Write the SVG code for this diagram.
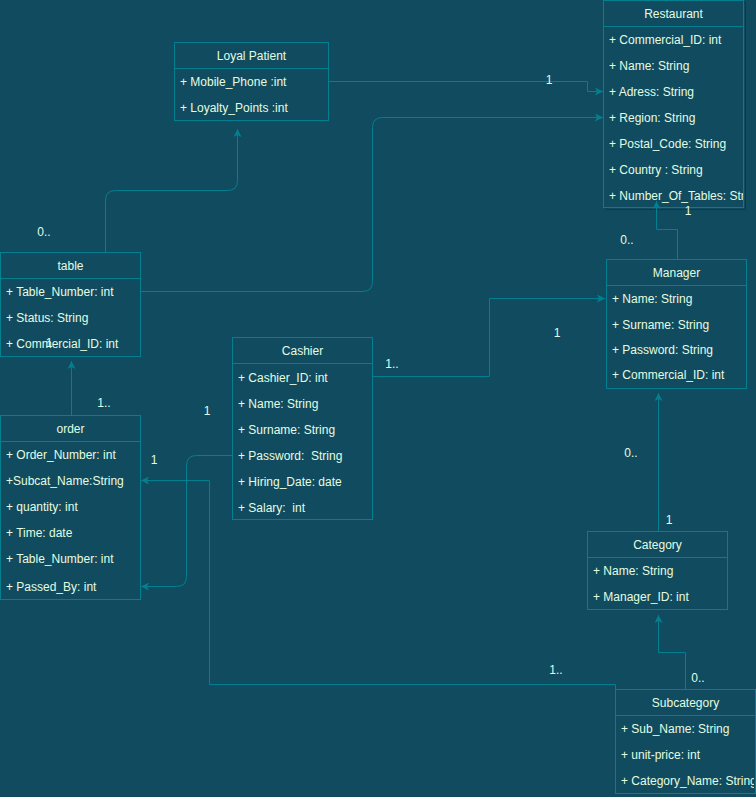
<svg xmlns="http://www.w3.org/2000/svg" width="756" height="797" viewBox="0 0 756 797">
<style>
.bg{fill:#114B5F}
.box{fill:#114B5F;stroke:#028090;stroke-width:1}
.sep{stroke:#028090;stroke-width:1}
.t{font-family:"Liberation Sans",Arial,sans-serif;font-size:12px;fill:#E4FDE1}
.ttl{text-anchor:middle}
.edge{fill:none;stroke:#028090;stroke-width:1}
.lbl{font-family:"Liberation Sans",Arial,sans-serif;font-size:12px;fill:#E4FDE1;text-anchor:middle}
</style>
<defs>
<marker id="arr" viewBox="0 0 10 10" refX="10" refY="5" markerWidth="8" markerHeight="8" markerUnits="userSpaceOnUse" orient="auto">
<path d="M0,0 L10,5 L0,10 L2.5,5 Z" fill="#028090"/>
</marker>
<clipPath id="cR"><rect x="604" y="0" width="139" height="208"/></clipPath>
<clipPath id="cS"><rect x="615" y="689" width="139" height="104"/></clipPath>
</defs>
<rect class="bg" x="0" y="0" width="756" height="797"/>

<g id="restaurant">
<rect x="606.5" y="2.5" width="139" height="207" fill="none" stroke="#0c3a4a"/>
<rect class="box" x="603.5" y="0.5" width="140" height="207"/>
<line class="sep" x1="603.5" y1="26.5" x2="743.5" y2="26.5"/>
<text class="t ttl" x="673.5" y="18">Restaurant</text>
<g clip-path="url(#cR)">
<text class="t" x="609" y="44">+ Commercial_ID: int</text>
<text class="t" x="609" y="70">+ Name: String</text>
<text class="t" x="609" y="96">+ Adress: String</text>
<text class="t" x="609" y="122">+ Region: String</text>
<text class="t" x="609" y="148">+ Postal_Code: String</text>
<text class="t" x="609" y="174">+ Country : String</text>
<text class="t" x="609" y="200">+ Number_Of_Tables: String</text>
</g>
</g>

<g id="loyal-patient">
<rect class="box" x="174.5" y="42.5" width="154" height="78"/>
<line class="sep" x1="174.5" y1="68.5" x2="328.5" y2="68.5"/>
<text class="t ttl" x="251.5" y="60">Loyal Patient</text>
<text class="t" x="180" y="86">+ Mobile_Phone :int</text>
<text class="t" x="180" y="112">+ Loyalty_Points :int</text>
</g>

<g id="table">
<rect class="box" x="0.5" y="252.5" width="140" height="104"/>
<line class="sep" x1="0.5" y1="278.5" x2="140.5" y2="278.5"/>
<text class="t ttl" x="70.5" y="270">table</text>
<text class="t" x="6" y="296">+ Table_Number: int</text>
<text class="t" x="6" y="322">+ Status: String</text>
<text class="t" x="6" y="348">+ Commercial_ID: int</text>
</g>

<g id="cashier">
<rect class="box" x="232.5" y="337.5" width="140" height="182"/>
<line class="sep" x1="232.5" y1="363.5" x2="372.5" y2="363.5"/>
<text class="t ttl" x="302.5" y="355">Cashier</text>
<text class="t" x="238" y="382">+ Cashier_ID: int</text>
<text class="t" x="238" y="408">+ Name: String</text>
<text class="t" x="238" y="434">+ Surname: String</text>
<text class="t" x="238" y="460" xml:space="preserve">+ Password:  String</text>
<text class="t" x="238" y="486">+ Hiring_Date: date</text>
<text class="t" x="238" y="512" xml:space="preserve">+ Salary:  int</text>
</g>

<g id="order">
<rect class="box" x="0.5" y="415.5" width="140" height="184"/>
<line class="sep" x1="0.5" y1="441.5" x2="140.5" y2="441.5"/>
<text class="t ttl" x="70.5" y="433">order</text>
<text class="t" x="6" y="459">+ Order_Number: int</text>
<text class="t" x="6" y="485">+Subcat_Name:String</text>
<text class="t" x="6" y="511">+ quantity: int</text>
<text class="t" x="6" y="537">+ Time: date</text>
<text class="t" x="6" y="563">+ Table_Number: int</text>
<text class="t" x="6" y="591">+ Passed_By: int</text>
</g>

<g id="manager">
<rect class="box" x="606.5" y="259.5" width="140" height="129"/>
<line class="sep" x1="606.5" y1="285.5" x2="746.5" y2="285.5"/>
<text class="t ttl" x="676.5" y="277">Manager</text>
<text class="t" x="612" y="303">+ Name: String</text>
<text class="t" x="612" y="329">+ Surname: String</text>
<text class="t" x="612" y="354">+ Password: String</text>
<text class="t" x="612" y="379">+ Commercial_ID: int</text>
</g>

<g id="category">
<rect class="box" x="587.5" y="531.5" width="140" height="78"/>
<line class="sep" x1="587.5" y1="557.5" x2="727.5" y2="557.5"/>
<text class="t ttl" x="657.5" y="549">Category</text>
<text class="t" x="593" y="575">+ Name: String</text>
<text class="t" x="593" y="601">+ Manager_ID: int</text>
</g>

<g id="subcategory">
<rect class="box" x="615.5" y="689.5" width="140" height="104"/>
<line class="sep" x1="615.5" y1="715.5" x2="755.5" y2="715.5"/>
<text class="t ttl" x="685.5" y="707">Subcategory</text>
<g clip-path="url(#cS)">
<text class="t" x="621" y="733">+ Sub_Name: String</text>
<text class="t" x="621" y="759">+ unit-price: int</text>
<text class="t" x="621" y="785">+ Category_Name: String</text>
</g>
</g>

<g id="connectors">
<path class="edge" d="M328.5,81.5 H587.5 V91.5 H603" marker-end="url(#arr)"/>
<path class="edge" d="M140.5,291.5 H362.5 Q372.5,291.5 372.5,281.5 V127.5 Q372.5,117.5 382.5,117.5 H603" marker-end="url(#arr)"/>
<path class="edge" d="M105.5,252 V200.5 Q105.5,190.5 115.5,190.5 H227.5 Q237.5,190.5 237.5,180.5 V129" marker-end="url(#arr)"/>
<path class="edge" d="M71.5,415 V361" marker-end="url(#arr)"/>
<path class="edge" d="M372.5,376.5 H489.5 V298.5 H605" marker-end="url(#arr)"/>
<path class="edge" d="M232,455.5 H196.5 Q186.5,455.5 186.5,465.5 V576.5 Q186.5,586.5 176.5,586.5 H141" marker-end="url(#arr)"/>
<path class="edge" d="M615.5,689 V684.5 H209.5 V480.5 H141" marker-end="url(#arr)"/>
<path class="edge" d="M685.5,689 V652.5 H658.5 V615" marker-end="url(#arr)"/>
<path class="edge" d="M658.5,531 V393" marker-end="url(#arr)"/>
<path class="edge" d="M677.5,259 V229.5 H656.5 V201" marker-end="url(#arr)"/>
<text class="lbl" x="549" y="84">1</text>
<text class="lbl" x="44" y="236">0..</text>
<text class="lbl" x="49" y="347">1</text>
<text class="lbl" x="104" y="407">1..</text>
<text class="lbl" x="392" y="368">1..</text>
<text class="lbl" x="557" y="337">1</text>
<text class="lbl" x="207" y="415">1</text>
<text class="lbl" x="154" y="464">1</text>
<text class="lbl" x="556" y="674">1..</text>
<text class="lbl" x="698" y="682">0..</text>
<text class="lbl" x="631" y="457">0..</text>
<text class="lbl" x="669" y="524">1</text>
<text class="lbl" x="627" y="244">0..</text>
<text class="lbl" x="688" y="215">1</text>
</g>
</svg>
